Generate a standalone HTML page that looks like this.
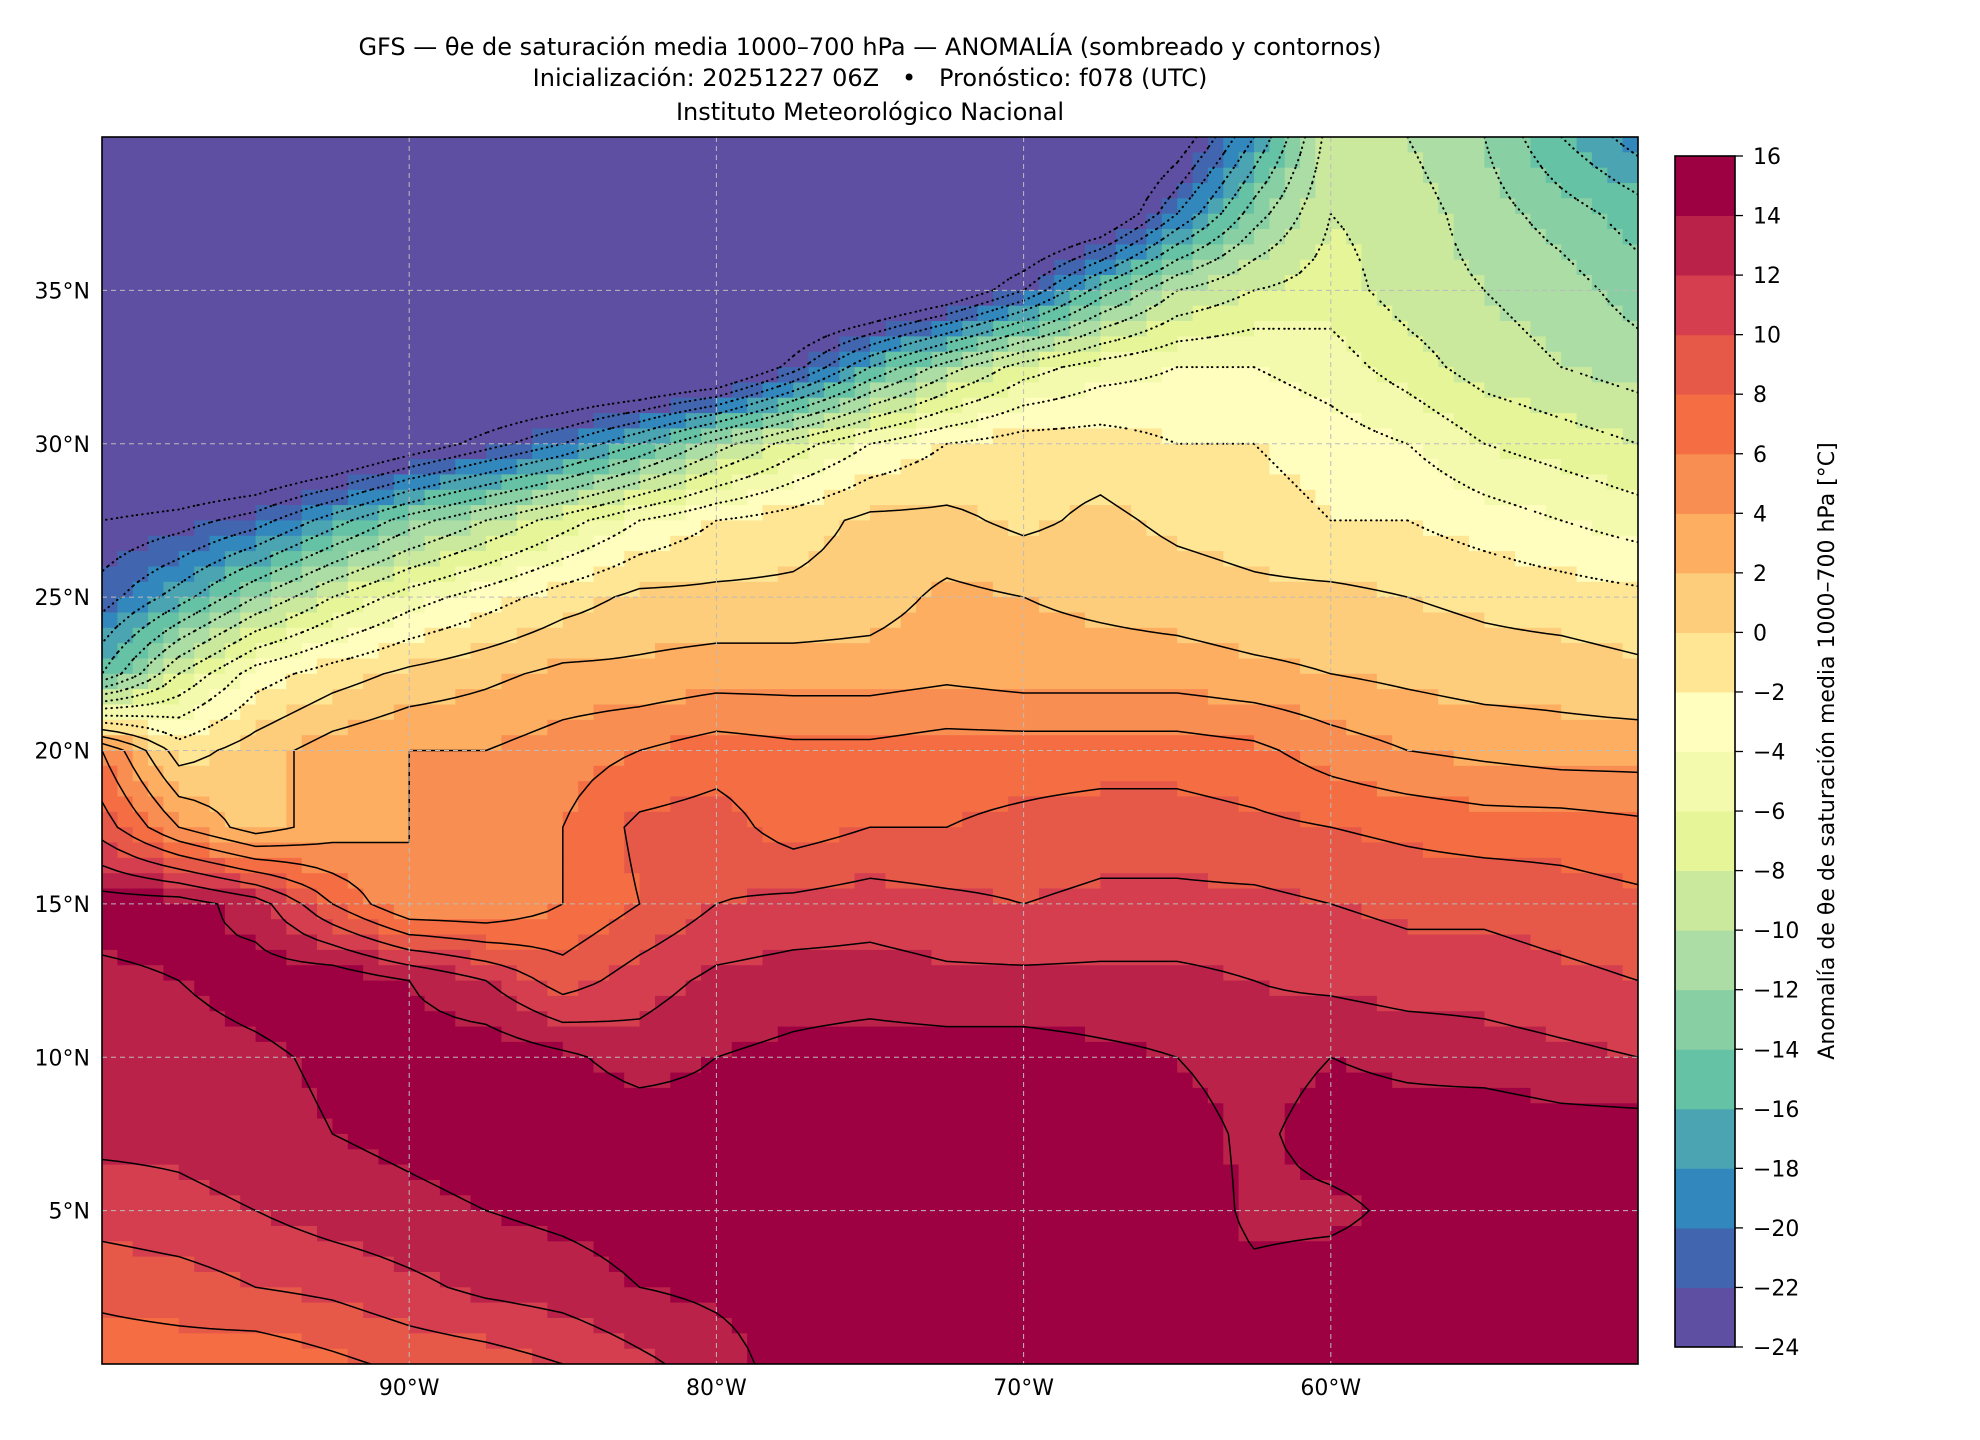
<!DOCTYPE html>
<html><head><meta charset="utf-8"><style>
body{margin:0;background:#fff;}
svg{display:block;font-family:"DejaVu Sans","Liberation Sans",sans-serif;}
</style></head><body>
<svg id="fig" width="1980" height="1440" viewBox="0 0 1980 1440" xmlns="http://www.w3.org/2000/svg">
<rect width="1980" height="1440" fill="#fff"/>
<g font-size="24" text-anchor="middle" fill="#000">
<text x="870" y="55">GFS — θe de saturación media 1000–700 hPa — ANOMALÍA (sombreado y contornos)</text>
<text x="870" y="86">Inicialización: 20251227 06Z &#160; • &#160; Pronóstico: f078 (UTC)</text>
<text x="870" y="120">Instituto Meteorológico Nacional</text>
</g>
<defs><clipPath id="pc"><rect x="102" y="137" width="1536" height="1227"/></clipPath></defs>
<g id="field" clip-path="url(#pc)"></g>
<g id="contours" clip-path="url(#pc)"></g>
<g id="grid" clip-path="url(#pc)"></g>
<rect x="102" y="137" width="1536" height="1227" fill="none" stroke="#000" stroke-width="1.6"/>
<g id="xticks" font-size="22" text-anchor="middle"></g>
<g id="yticks" font-size="22" text-anchor="end"></g>
<g id="cbar" font-size="22"></g>
<text font-size="22" text-anchor="middle" transform="translate(1834,751) rotate(-90)">Anomalía de θe de saturación media 1000–700 hPa [°C]</text>
</svg>
<script>
const lons=[-100,-97.5,-95,-92.5,-90,-87.5,-85,-82.5,-80,-77.5,-75,-72.5,-70,-67.5,-65,-62.5,-60,-57.5,-55,-52.5,-50];
const lats=[40,37.5,35,32.5,30,27.5,25,22.5,20,17.5,15,12.5,10,7.5,5,2.5,0];
const r40=[-30,-30,-30,-30,-30,-30,-30,-30,-30,-30,-30,-30,-30,-30,-26,-18,-9,-10,-12,-16,-19];
const r37=[-30,-30,-30,-30,-30,-30,-30,-30,-30,-30,-30,-30,-30,-28,-20,-13,-8,-9,-11,-13,-15];
const r35=[-30,-30,-30,-30,-30,-30,-30,-30,-30,-30,-30,-27,-22,-15,-10,-8,-7,-9,-10,-11,-13];
const r32=[-30,-30,-30,-30,-30,-30,-30,-30,-29,-23,-16,-11,-7,-5,-4,-4,-5,-7,-9,-10,-11];
const r30=[-30,-30,-30,-29,-26,-23,-20,-16,-11,-7,-4,-2,-1,-1,-2,-2,-3,-4,-6,-7,-8];
const r27=[-24,-23,-21,-17,-13,-10,-7,-4,-2,-1,0.5,0.5,-0.5,0.5,-0.5,-1,-2,-2,-3,-4,-5];
const r25=[-21,-17,-12,-8,-5,-3,-1,0.5,0.5,0.5,1,2.5,2,1.5,1,0.5,0.5,0,-0.5,-1,-1.5];
const r22=[-16,-8,-3,-1,0.5,1.5,2.5,2.5,3,3,3,3.5,3,3,3,2.5,2,1.5,1,1,0.5];
const r20=[6,-1,1,3,4,4,5,6,7,6.5,6.5,7,7,7,7,6.5,5,4,3.5,3,3];
const r17=[9,4,1,3,4,5,6,8.5,9,7,8,8,8.5,9,9,8.5,8,7.5,7,7,6.5];
const r15=[15,15,13,8,4,4,6,8,10,10.5,11,10.5,10,10.5,10.5,10.5,10,9.5,9.5,9,8.5];
const r12=[13.5,14,15,15.5,14,12,9,11,12.5,13,13,12.5,12.5,12.5,12.5,12,11.5,11,11,10.5,10];
const r10=[13.5,13,13.5,14.5,15,15.5,14.5,13,14,14.5,15,15,15,14.5,14,13,14,13.5,13,12.5,12];
const r07=[12.5,12.5,13,14,14.5,15,15.5,15.5,15,15,15.5,15.5,15.5,15,15,13.5,15,15,15.5,15,15];
const r05=[11,11.5,12,13,13.5,14,14.5,15,15,15,15,15.5,15.5,15,15.5,13.5,13.5,14.5,15,15.5,15.5];
const r02=[8.5,9,10,10.5,11.5,12.5,13,14,14.5,15,15,15,15,15,15,14.5,15,15,15.5,15,15];
const r00=[7,7,6.5,7.5,8.5,9,10,11.5,13,15,15.5,15.5,15.5,15.5,15.5,15,15,15.5,15.5,15.5,15];
const rows=[r40,r37,r35,r32,r30,r27,r25,r22,r20,r17,r15,r12,r10,r07,r05,r02,r00];
const levels=[-24,-22,-20,-18,-16,-14,-12,-10,-8,-6,-4,-2,0,2,4,6,8,10,12,14,16];
const colors=["#5e4fa2","#4166af","#3288bd","#4ba4b1","#66c2a5","#88cfa4","#abdda4","#cbe99d","#e6f598","#f3faad","#fffebe","#fee695","#fdcd7b","#fdae61","#f98e52","#f46d43","#e65848","#d53e4f","#bb2249","#9e0142"];
const xtickLabels=["90°W","80°W","70°W","60°W"], xtickVals=[-90,-80,-70,-60];
const ytickLabels=["5°N","10°N","15°N","20°N","25°N","30°N","35°N"], ytickVals=[5,10,15,20,25,30,35];

const NS="http://www.w3.org/2000/svg";
const PX0=102,PX1=1638,PY0=137,PY1=1364;
const X=lon=>PX0+(lon+100)/50*(PX1-PX0);
const Y=lat=>PY0+(40-lat)/40*(PY1-PY0);
function val(lon,lat){
  let i=(lon-lons[0])/2.5, j=(lats[0]-lat)/2.5;
  i=Math.max(0,Math.min(lons.length-1.0001,i)); j=Math.max(0,Math.min(lats.length-1.0001,j));
  const i0=Math.floor(i), j0=Math.floor(j), fi=i-i0, fj=j-j0;
  const a=rows[j0][i0], b=rows[j0][i0+1], c=rows[j0+1][i0], d=rows[j0+1][i0+1];
  return a*(1-fi)*(1-fj)+b*fi*(1-fj)+c*(1-fi)*fj+d*fi*fj;
}
function colorOf(v){
  if(v<levels[0]) return colors[0];
  for(let k=0;k<colors.length;k++) if(v<levels[k+1]) return colors[k];
  return colors[colors.length-1];
}
function mk(tag,attrs,parent){const e=document.createElementNS(NS,tag);for(const k in attrs)e.setAttribute(k,attrs[k]);parent.appendChild(e);return e;}
const field=document.getElementById('field');
const step=0.5, nx=100, ny=80;
for(let r=0;r<ny;r++){
  const lat=40-(r+0.5)*step;
  let runStart=0, runCol=null;
  for(let c=0;c<=nx;c++){
    const col=c<nx?colorOf(val(-100+(c+0.5)*step,lat)):null;
    if(col!==runCol){
      if(runCol!==null){
        const x0=X(-100+runStart*step), x1=X(-100+c*step);
        const el=mk('rect',{x:x0.toFixed(1),y:Y(40-r*step).toFixed(1),width:(x1-x0+0.6).toFixed(1),height:(Y(40-(r+1)*step)-Y(40-r*step)+0.6).toFixed(1),fill:runCol},field);
        
        
      }
      runStart=c; runCol=col;
    }
  }
}
const cg=document.getElementById('contours');
const node=[];for(let r=0;r<=ny;r++){node.push([]);for(let c=0;c<=nx;c++)node[r].push(val(-100+c*step,40-r*step));}
levels.forEach(L=>{
  let d="";
  for(let r=0;r<ny;r++)for(let c=0;c<nx;c++){
    const v=[node[r][c],node[r][c+1],node[r+1][c+1],node[r+1][c]];
    const p=[[c,r],[c+1,r],[c+1,r+1],[c,r+1]];
    const pts=[];
    for(let e=0;e<4;e++){const a=v[e],b=v[(e+1)%4];
      if((a<L)!==(b<L)){const t=(L-a)/(b-a);const pa=p[e],pb=p[(e+1)%4];
        pts.push([pa[0]+(pb[0]-pa[0])*t,pa[1]+(pb[1]-pa[1])*t]);}}
    for(let k=0;k+1<pts.length;k+=2){
      const q=pts[k],s=pts[k+1];
      d+="M"+X(-100+q[0]*step).toFixed(1)+" "+Y(40-q[1]*step).toFixed(1)+"L"+X(-100+s[0]*step).toFixed(1)+" "+Y(40-s[1]*step).toFixed(1);
    }
  }
  if(d){const el=mk('path',{d:d,fill:'none',stroke:'#000','stroke-width':L<0?2:1.5,'stroke-dasharray':L<0?'0.5 5':'none','stroke-linecap':'round'},cg);
    
    }
});
const g=document.getElementById('grid'), xt=document.getElementById('xticks'), yt=document.getElementById('yticks');
xtickVals.forEach((v,i)=>{
  const gl=mk('line',{x1:X(v),x2:X(v),y1:PY0,y2:PY1,stroke:'#bbb','stroke-width':1,'stroke-dasharray':'5 4'},g);
  
  
  const t=mk('text',{x:X(v),y:1395},xt);t.textContent=xtickLabels[i];
  
  
});
ytickVals.forEach((v,i)=>{
  const gl=mk('line',{x1:PX0,x2:PX1,y1:Y(v),y2:Y(v),stroke:'#bbb','stroke-width':1,'stroke-dasharray':'5 4'},g);
  
  
  const t=mk('text',{x:90,y:Y(v)+8},yt);t.textContent=ytickLabels[i];
  
  
});
const cb=document.getElementById('cbar');
const CB0=156,CB1=1347;
const cbY=v=>CB1-(v-levels[0])/(levels[levels.length-1]-levels[0])*(CB1-CB0);
colors.forEach((col,k)=>{
  const el=mk('rect',{x:1675,y:cbY(levels[k+1]).toFixed(1),width:60,height:(cbY(levels[k])-cbY(levels[k+1])+0.5).toFixed(1),fill:col},cb);
  
  
});
mk('rect',{x:1675,y:CB0,width:60,height:CB1-CB0,fill:'none',stroke:'#000','stroke-width':1.6},cb);
levels.forEach(L=>{
  mk('line',{x1:1735,x2:1743,y1:cbY(L),y2:cbY(L),stroke:'#000','stroke-width':1.3},cb);
  const t=mk('text',{x:1753,y:cbY(L)+8},cb);t.textContent=String(L).replace('-','−');
  
  
});
</script>
</body></html>
